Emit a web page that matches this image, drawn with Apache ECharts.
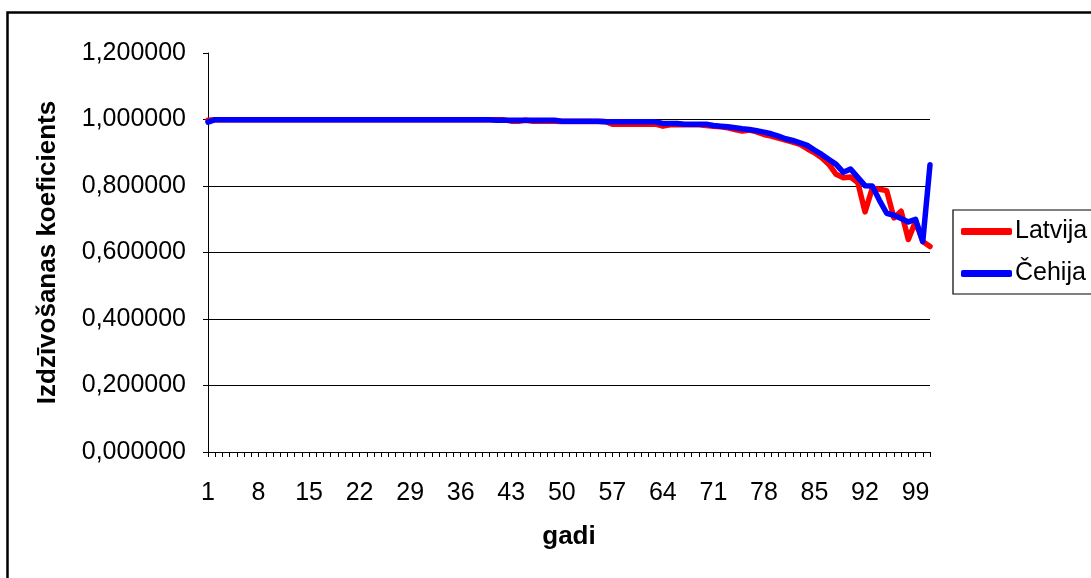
<!DOCTYPE html>
<html>
<head>
<meta charset="utf-8">
<script src="https://cdn.jsdelivr.net/npm/echarts@6/dist/echarts.min.js"></script>
<style>
html,body{margin:0;padding:0;background:#fff;}
#c{width:1091px;height:578px;}
</style>
</head>
<body>
<div id="c"></div>
<script>
// categories: years 1..101
var years = [];
for (var k = 1; k <= 101; k++) years.push(String(k));

var latvija = [
  0.998, 0.999, 0.999, 0.999, 0.999, 0.999, 0.999, 0.999, 0.999, 0.999,
  0.999, 0.999, 0.999, 0.999, 0.999, 0.999, 0.999, 0.999, 0.999, 0.999,
  0.999, 0.999, 0.999, 0.999, 0.999, 0.999, 0.999, 0.999, 0.999, 0.999,
  0.999, 0.999, 0.999, 0.999, 0.999, 0.999, 0.999, 0.999, 0.999, 0.999,
  0.999, 0.999, 0.995, 0.995, 0.998, 0.995, 0.995, 0.995, 0.995, 0.994,
  0.994, 0.994, 0.994, 0.994, 0.994, 0.994, 0.986, 0.986, 0.986, 0.986,
  0.986, 0.986, 0.986, 0.980, 0.984, 0.984, 0.984, 0.984, 0.984, 0.982,
  0.980, 0.978, 0.975, 0.970, 0.965, 0.968, 0.963, 0.955, 0.950, 0.944,
  0.938, 0.932, 0.925, 0.912, 0.900, 0.885, 0.865, 0.835, 0.825, 0.827,
  0.810, 0.722, 0.793, 0.790, 0.786, 0.704, 0.724, 0.639, 0.694, 0.633,
  0.618
];
var cehija = [
  0.992, 0.9995, 0.9995, 0.9995, 0.9995, 0.9995, 0.9995, 0.9995, 0.9995, 0.9995,
  0.9995, 0.9995, 0.9995, 0.9995, 0.9995, 0.9995, 0.9995, 0.9995, 0.9995, 0.9995,
  0.999, 0.999, 0.999, 0.999, 0.999, 0.999, 0.999, 0.999, 0.999, 0.999,
  0.999, 0.999, 0.999, 0.999, 0.999, 0.999, 0.999, 0.999, 0.999, 0.999,
  0.998, 0.998, 0.998, 0.998, 0.998, 0.998, 0.998, 0.998, 0.998, 0.995,
  0.995, 0.995, 0.995, 0.995, 0.995, 0.993, 0.993, 0.993, 0.993, 0.993,
  0.993, 0.993, 0.993, 0.988, 0.988, 0.988, 0.986, 0.986, 0.986, 0.986,
  0.982, 0.980, 0.978, 0.975, 0.972, 0.970, 0.966, 0.962, 0.957, 0.950,
  0.942, 0.937, 0.930, 0.922, 0.908, 0.895, 0.880, 0.865, 0.841, 0.851,
  0.826, 0.801, 0.800, 0.757, 0.718, 0.712, 0.702, 0.692, 0.700, 0.633,
  0.864
];
var yTicks = [0, 0.2, 0.4, 0.6, 0.8, 1.0, 1.2];

var FONT = '"Liberation Sans", Arial, sans-serif';
var chart = echarts.init(document.getElementById('c'), null, {renderer: 'canvas'});
chart.setOption({
  animation: false,
  backgroundColor: '#ffffff',
  textStyle: {fontFamily: FONT, color: '#000'},
  graphic: [{
    type: 'rect',
    shape: {x: 7.5, y: 12.5, width: 1200, height: 700},
    style: {fill: 'none', stroke: '#000', lineWidth: 2.5},
    silent: true, z: -1
  }],
  grid: {left: 208, right: 161, top: 53, bottom: 126, containLabel: false},
  legend: {
    orient: 'vertical',
    left: 953, top: 210,
    padding: [9, 40, 8, 8],
    itemGap: 17,
    itemWidth: 51, itemHeight: 7,
    icon: 'roundRect',
    borderColor: '#000', borderWidth: 1.2, borderRadius: 0,
    backgroundColor: '#fff',
    textStyle: {fontFamily: FONT, fontSize: 25, color: '#000', padding: [0,0,0,-2]},
    data: ['Latvija', 'Čehija']
  },
  xAxis: {
    type: 'category',
    data: years,
    boundaryGap: false,
    name: 'gadi',
    nameLocation: 'middle',
    nameGap: 72,
    nameTextStyle: {fontFamily: FONT, fontSize: 26, fontWeight: 'bold', color: '#000'},
    axisLine: {lineStyle: {color: '#000', width: 1}},
    axisTick: {show: true, interval: 0, length: 5, lineStyle: {color: '#000', width: 1}},
    axisLabel: {interval: 6, margin: 29, fontFamily: FONT, fontSize: 25, color: '#000'},
    splitLine: {show: false}
  },
  yAxis: {
    type: 'value',
    min: 0, max: 1.2, interval: 0.2,
    name: 'Izdzīvošanas koeficients',
    nameLocation: 'middle',
    nameGap: 147,
    nameRotate: 90,
    nameTextStyle: {fontFamily: FONT, fontSize: 26, fontWeight: 'bold', color: '#000'},
    axisLine: {show: true, lineStyle: {color: '#000', width: 1}},
    axisTick: {show: true, length: 5, lineStyle: {color: '#000', width: 1}},
    axisLabel: {
      margin: 22, fontFamily: FONT, fontSize: 25, color: '#000',
      formatter: function (v) { return v.toFixed(6).replace('.', ','); }
    },
    splitLine: {show: true, showMaxLine: false, lineStyle: {color: '#000', width: 1}}
  },
  series: [
    {
      name: 'Latvija', type: 'line', data: latvija,
      showSymbol: false, symbol: 'none', smooth: false,
      itemStyle: {color: '#ff0000'},
      lineStyle: {color: '#ff0000', width: 5.5, cap: 'round', join: 'round'}
    },
    {
      name: 'Čehija', type: 'line', data: cehija,
      showSymbol: false, symbol: 'none', smooth: false,
      itemStyle: {color: '#0000ff'},
      lineStyle: {color: '#0000ff', width: 5.5, cap: 'round', join: 'round'}
    }
  ]
});
</script>
</body>
</html>
